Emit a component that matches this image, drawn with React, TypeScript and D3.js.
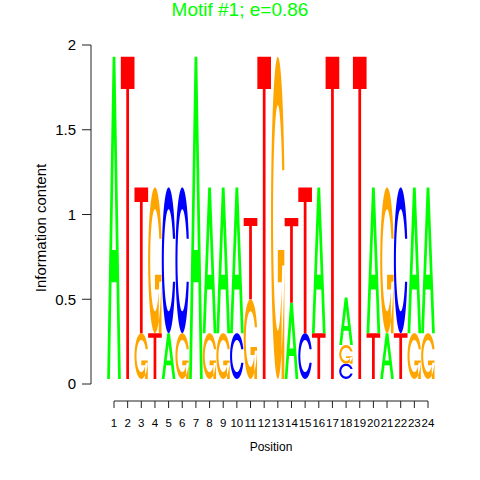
import React from 'react';
import * as d3 from 'd3';

// Motif logo data (letter heights in bits for each position)
const positions = d3.range(1, 25);
const bases = ['A', 'C', 'G', 'T'];
const heightA = [1.9, 0, 0, 0, 0.27, 0, 1.9, 0.86, 0.86, 0.86, 0, 0, 0, 0.45, 0, 0.86, 0, 0.28, 0, 0.86, 0.27, 0, 0.86, 0.86];
const heightC = [0, 0, 0, 0, 0.86, 0.86, 0, 0, 0, 0.27, 0, 0, 0, 0, 0.27, 0, 0, 0.09, 0, 0, 0, 0.86, 0, 0];
const heightG = [0, 0, 0.27, 0.86, 0, 0.27, 0, 0.27, 0.27, 0, 0.47, 0, 1.9, 0, 0, 0, 0, 0.11, 0, 0, 0.86, 0, 0.27, 0.27];
const heightT = [0, 1.9, 0.86, 0.27, 0, 0, 0, 0, 0, 0, 0.48, 1.9, 0, 0.5, 0.86, 0.27, 1.9, 0, 1.9, 0.27, 0, 0.27, 0, 0];
// small residual letters at the bottom of every column
const residual = 0.03;
const yTicks = [0, 0.5, 1, 1.5, 2];

const colors = { A: '#00FF00', C: '#0000FF', G: '#FFA500', T: '#FF0000' };
const font = "'Liberation Sans', Arial, Helvetica, sans-serif";

// glyph outlines in a unit box (y up), like seqLogo
const arcPoints = () => {
  const n = 100;
  const a1 = d3.range(n).map(i => 0.3 + Math.PI / 2 + (Math.PI - 0.3 - Math.PI / 2) * i / (n - 1));
  const a2 = d3.range(n).map(i => Math.PI + (Math.PI / 2) * i / (n - 1));
  const xl = [...a1, ...a2].map(a => 0.5 + 0.5 * Math.sin(a));
  const yl = [...a1, ...a2].map(a => 0.5 + 0.5 * Math.cos(a));
  const maxY1 = d3.max(a1, a => 0.5 + 0.5 * Math.cos(a));
  let xi1 = a1.map(a => 0.5 + 0.35 * Math.sin(a));
  let yi1 = a1.map(a => 0.5 + 0.35 * Math.cos(a));
  const keep = yi1.map(y => y <= maxY1);
  xi1 = xi1.filter((_, i) => keep[i]);
  yi1 = yi1.filter((_, i) => keep[i]);
  yi1[0] = maxY1;
  const xi = [...xi1, ...a2.map(a => 0.5 + 0.35 * Math.sin(a))];
  const yi = [...yi1, ...a2.map(a => 0.5 + 0.35 * Math.cos(a))];
  const xo = [...xl, ...[...xl].reverse()];
  const yo = [...yl, ...[...yl].reverse().map(y => 1 - y)];
  const xin = [...xi, ...[...xi].reverse()];
  const yin = [...yi, ...[...yi].reverse().map(y => 1 - y)];
  const pts = xo.map((x, i) => [x, yo[i]]);
  const inner = xin.map((x, i) => [x, yin[i]]).reverse();
  return { pts: [...pts, ...inner], r1: d3.max(a1, a => 0.5 + 0.5 * Math.sin(a)) };
};

const glyphs = (() => {
  const c = arcPoints();
  const r1 = c.r1;
  return {
    A: [
      [[0, 0], [0.4, 1], [0.6, 1], [1, 0], [0.8, 0], [0.68, 0.3], [0.32, 0.3], [0.2, 0]],
      [[0.36, 0.4], [0.5, 0.75], [0.64, 0.4]],
    ],
    T: [[[0, 1], [1, 1], [1, 0.9], [0.6, 0.9], [0.6, 0], [0.4, 0], [0.4, 0.9], [0, 0.9]]],
    C: [c.pts],
    G: [c.pts, [[r1, 0.4], [0.5, 0.4], [0.5, 0.3], [r1 - 0.2, 0.3], [r1 - 0.2, 0], [r1, 0]]],
  };
})();

const heightsOf = { A: heightA, C: heightC, G: heightG, T: heightT };

const App = () => {
  const width = 480;
  const height = 480;

  const x = d3.scaleLinear().domain([1, 24]).range([114, 428]);
  const y = d3.scaleLinear().domain([0, 2]).range([384, 45]);

  // stack letters per column, smallest at the bottom
  const letters = [];
  positions.forEach((p, i) => {
    const col = bases
      .map(b => ({ base: b, h: heightsOf[b][i] }))
      .filter(d => d.h > 0)
      .sort((a, b) => a.h - b.h);
    let base = residual;
    col.forEach(d => {
      letters.push({ pos: p, base: d.base, y0: base, y1: base + d.h });
      base += d.h;
    });
  });

  const letterPath = d => {
    const x0 = x(d.pos - 0.5);
    const w = x(d.pos + 0.5) - x0;
    const line = d3.line().x(q => x0 + q[0] * w).y(q => y(d.y0) + (y(d.y1) - y(d.y0)) * q[1]);
    return glyphs[d.base].map(poly => line(poly) + 'Z').join('');
  };

  return (
    <svg width={width} height={height} style={{ position: 'absolute', left: 0, top: 0, background: '#fff' }}>
      <text x={240} y={16} textAnchor="middle" fontFamily={font} fontSize={19} fill="#00FF00">
        Motif #1; e=0.86
      </text>

      {/* letters */}
      <g>
        {letters.map((d, i) => (
          <path key={i} d={letterPath(d)} fill={colors[d.base]} fillRule="evenodd" />
        ))}
      </g>

      {/* y axis */}
      <g stroke="#222" fill="none">
        <line x1={91} x2={91} y1={y(0)} y2={y(2)} />
        {yTicks.map(t => (
          <line key={t} x1={82} x2={91} y1={y(t)} y2={y(t)} />
        ))}
      </g>
      {yTicks.map(t => (
        <text key={t} x={76} y={y(t)} dy="0.36em" textAnchor="end" fontFamily={font} fontSize={15} fill="#000">
          {t}
        </text>
      ))}
      <text
        transform={`translate(46,228) rotate(-90)`}
        textAnchor="middle"
        fontFamily={font}
        fontSize={15}
        fill="#000"
      >
        Information content
      </text>

      {/* x axis */}
      <g stroke="#222" fill="none">
        <line x1={x(1)} x2={x(24)} y1={401} y2={401} />
        {positions.map(p => (
          <line key={p} x1={x(p)} x2={x(p)} y1={401} y2={408} />
        ))}
      </g>
      {positions.map(p => (
        <text key={p} x={x(p)} y={427} textAnchor="middle" fontFamily={font} fontSize={11.5} fill="#000">
          {p}
        </text>
      ))}
      <text x={x(12.5)} y={451} textAnchor="middle" fontFamily={font} fontSize={12} fill="#000">
        Position
      </text>
    </svg>
  );
};

export default App;
